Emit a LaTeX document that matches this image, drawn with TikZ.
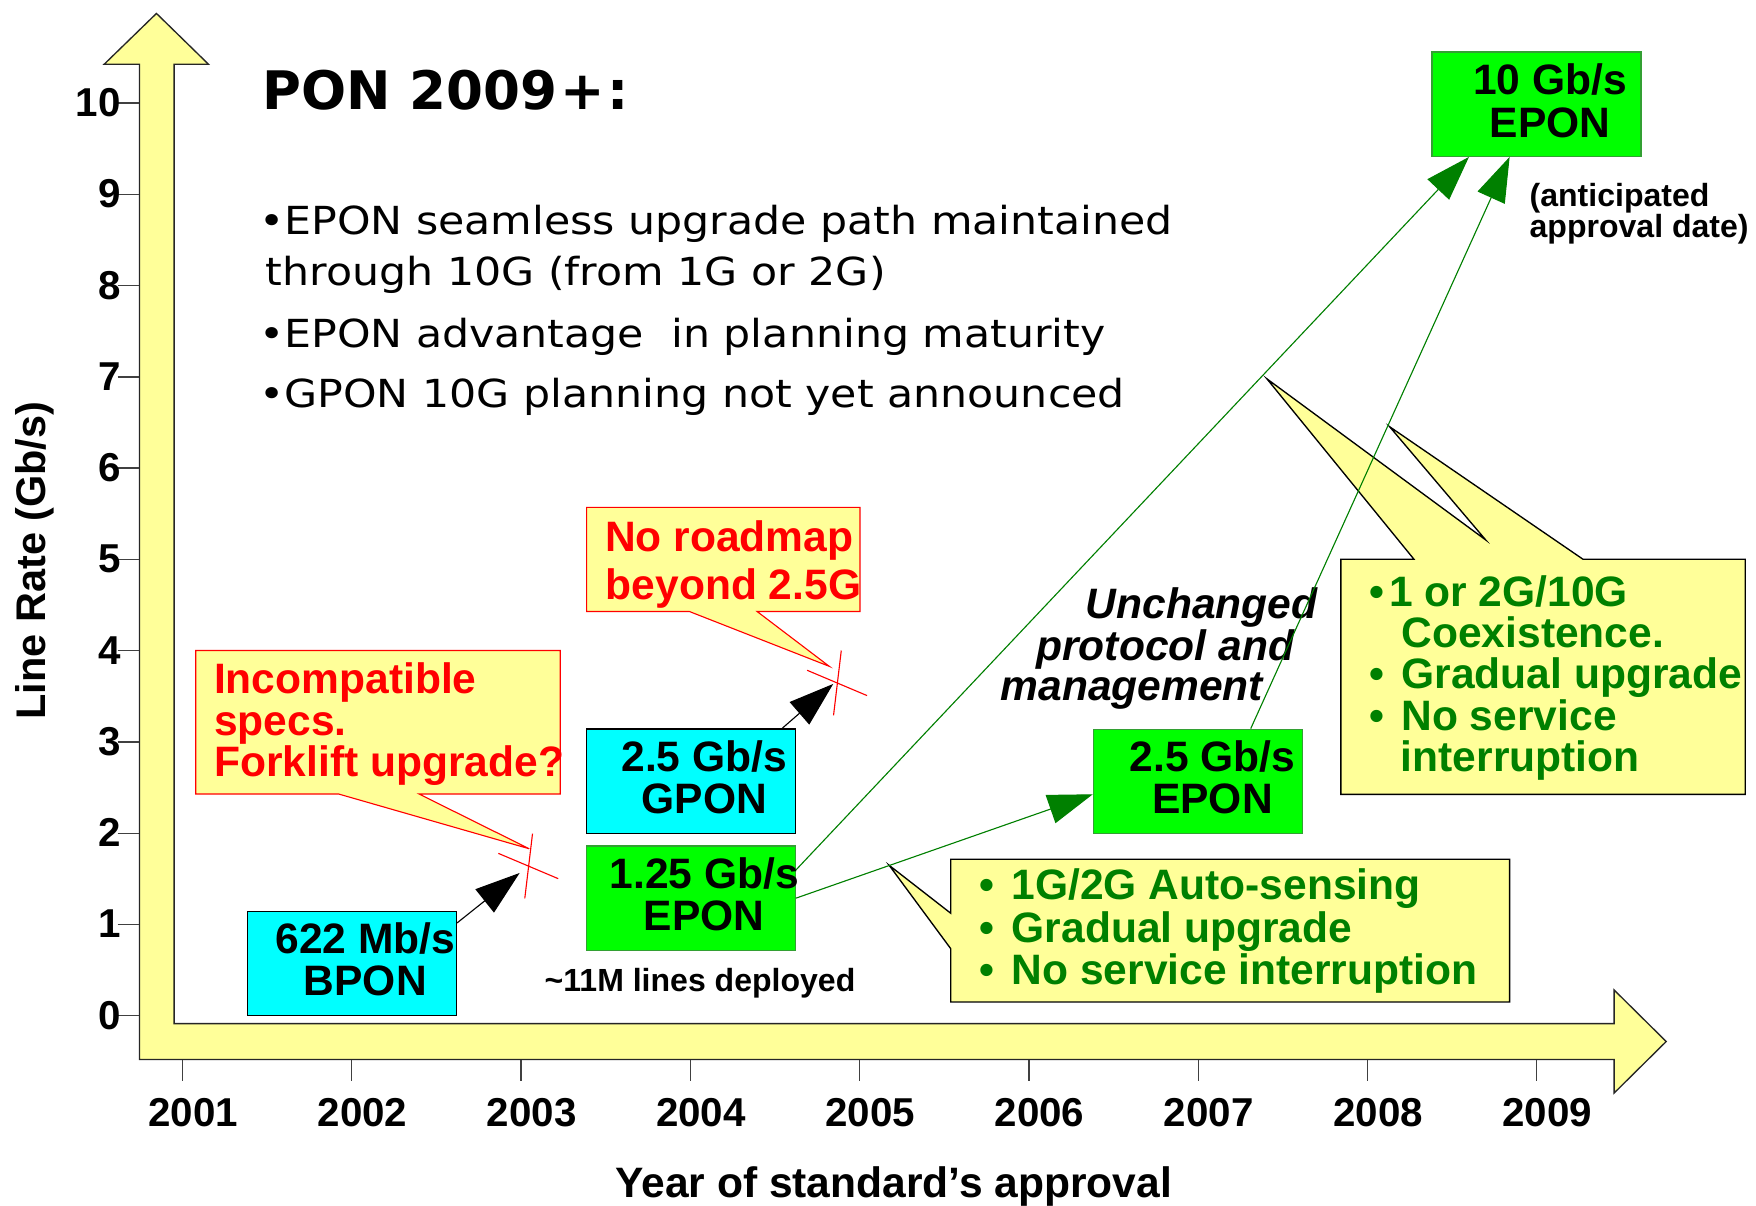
\documentclass[tikz,border=0pt]{standalone}
\usepackage{fontspec}
\setmainfont{Liberation Sans}
\newfontfamily\titlefont{DejaVu Sans}
\newfontfamily\bulletfont[FakeStretch=1.105]{DejaVu Sans}
\usetikzlibrary{arrows.meta,calc}
\definecolor{callfill}{HTML}{FFFF99}
\definecolor{ponblue}{HTML}{00FFFF}
\definecolor{pongreen}{HTML}{00FF00}
\definecolor{pongreenedge}{HTML}{33A033}
\definecolor{darkgreen}{HTML}{008000}
\definecolor{alertred}{HTML}{FF0000}

\begin{document}
\begin{tikzpicture}[x=0.5pt,y=-0.5pt,
  axisarrow/.style={fill=callfill,draw=black!85,line width=0.6pt,line join=miter},
  tickline/.style={draw=black!75,line width=0.6pt},
  ticklab/.style={font=\bfseries\fontsize{18}{18}\selectfont,inner sep=0pt},
  axistitle/.style={font=\bfseries\fontsize{19}{19}\selectfont,inner sep=0pt},
  ratebox/.style={rectangle,minimum width=93.3pt,minimum height=46.5pt,inner sep=0pt,line width=0.6pt},
  cyanbox/.style={ratebox,fill=ponblue,draw=black},
  greenbox/.style={ratebox,fill=pongreen,draw=pongreenedge},
  boxtext/.style={font=\bfseries\fontsize{19}{19}\selectfont,inner sep=0pt,anchor=base},
  redcall/.style={fill=callfill,draw=alertred,line width=0.5pt,line join=miter},
  darkcall/.style={fill=callfill,draw=black,line width=0.6pt,line join=miter},
  redtext/.style={font=\bfseries\fontsize{19}{19}\selectfont,text=alertred,inner sep=0pt,anchor=base west},
  greentext/.style={font=\bfseries\fontsize{19}{19}\selectfont,text=darkgreen,inner sep=0pt,anchor=base west},
  notetext/.style={font=\bfseries\fontsize{14.3}{14.3}\selectfont,inner sep=0pt,anchor=base west},
  slanttext/.style={font=\bfseries\itshape\fontsize{19}{19}\selectfont,inner sep=0pt,anchor=base west},
  bullettext/.style={font=\bulletfont\fontsize{17.25}{17.25}\selectfont,inner sep=0pt,anchor=base west},
  headline/.style={font=\titlefont\bfseries\fontsize{23.7}{23.7}\selectfont,inner sep=0pt,anchor=base west},
  upgrade/.style={draw=darkgreen,line width=0.5pt,-{Triangle[length=20pt,width=13.25pt]}},
  migrate/.style={draw=black,line width=0.5pt,-{Triangle[length=20pt,width=13.25pt]}},
  strike/.style={draw=alertred,line width=0.5pt},
]
\fill[white] (0,0) rectangle (1568,1076);
\useasboundingbox (0,0) rectangle (1568,1076);

% L-shaped axis arrow
\draw[axisarrow] (124.5,946) -- (124.5,57.4) -- (93,57.4) -- (139.7,12) -- (186.2,57.4)
  -- (155.5,57.4) -- (155.5,914) -- (1441.3,914) -- (1441.3,884) -- (1487.8,930)
  -- (1441.3,976) -- (1441.3,946) -- cycle;

% rate ticks
\foreach \v in {0,...,10} {
  \draw[tickline] (105,{907-81.5*\v}) -- (124.5,{907-81.5*\v});
  \node[ticklab,anchor=base east] (rate\v) at (108,{919-81.5*\v}) {\v};
}
% year ticks
\foreach \yr [count=\i from 0] in {2001,...,2009} {
  \draw[tickline] ({163+151.15*\i},946.3) -- ({163+151.15*\i},965.6);
  \node[ticklab,anchor=base] (year\yr) at ({172.5+151.15*\i},1005.7) {\yr};
}
\node[axistitle,anchor=base] (xtitle) at (798,1069) {Year of standard’s approval};
\node[axistitle,font=\bfseries\fontsize{18.5}{18.5}\selectfont,anchor=base,rotate=90] (ytitle) at (41,500.5) {Line Rate (Gb/s)};

% heading and bullet list
\node[headline] (head) at (234,98.2) {PON 2009\kern1.3pt+\kern1.3pt:};
\node[bullettext] (bul1) at (231,209.2) {•EPON seamless upgrade path maintained};
\node[bullettext] (bul1b) at (237,254.5) {through 10G (from 1G or 2G)};
\node[bullettext] (bul2) at (231,310.4) {•EPON advantage\ \ in planning maturity};
\node[bullettext] (bul3) at (231,363.5) {•GPON 10G planning not yet announced};

% callouts
\draw[redcall] (174.8,580.8) -- (500.3,580.8) -- (500.3,709) -- (374.2,709) -- (472.6,757.9)
  -- (302.4,709) -- (174.8,709) -- cycle;
\node[redtext] (fork1) at (190.8,619.4) {Incompatible};
\node[redtext] (fork2) at (190.8,656.4) {specs.};
\node[redtext] (fork3) at (190.8,693.4) {Forklift upgrade?};

\draw[redcall] (523.8,453) -- (767.9,453) -- (767.9,546) -- (676,546) -- (740.5,595)
  -- (615.5,546) -- (523.8,546) -- cycle;
\node[redtext] (road1) at (540,492.6) {No roadmap};
\node[redtext] (road2) at (540.5,535) {beyond 2.5G};

\draw[darkcall] (849,767.2) -- (1348,767.2) -- (1348,894.7) -- (849,894.7) -- (849,847.2)
  -- (794,772.7) -- (849,815.5) -- cycle;
\node[greentext] (auto1) at (874.6,803.6) {\makebox[14.2pt][l]{•}1G/2G Auto-sensing};
\node[greentext] (auto2) at (874.6,841.2) {\makebox[14.2pt][l]{•}Gradual upgrade};
\node[greentext] (auto3) at (874.6,878.9) {\makebox[14.2pt][l]{•}No service interruption};

\draw[darkcall] (1197.3,499.3) -- (1262.5,499.3) -- (1131.3,338.3) -- (1326.6,482.1)
  -- (1240.8,381) -- (1413.4,499.3) -- (1558.4,499.3) -- (1558.4,709.3)
  -- (1197.3,709.3) -- cycle;
\node[greentext] (coex1) at (1222.8,541.4) {\makebox[8.6pt][l]{•}1 or 2G/10G};
\node[greentext] (coex2) at (1251,578) {Coexistence.};
\node[greentext] (coex3) at (1222.8,614.9) {\makebox[14.1pt][l]{•}Gradual upgrade};
\node[greentext] (coex4) at (1222.8,652.2) {\makebox[14.1pt][l]{•}No service};
\node[greentext] (coex5) at (1250.5,688.8) {interruption};

% rate boxes
\node[cyanbox] (bpon) at (314.2,860.2) {};
\node[boxtext] (bponA) at ($(bpon.north)+(12,38.5)$) {622 Mb/s};
\node[boxtext] (bponB) at ($(bpon.north)+(12,76)$) {BPON};

\node[cyanbox] (gpon) at (616.8,697.5) {};
\node[boxtext] (gponA) at ($(gpon.north)+(12,38.5)$) {2.5 Gb/s};
\node[boxtext] (gponB) at ($(gpon.north)+(12,76)$) {GPON};

\node[greenbox] (epon1) at (616.8,802) {};
\node[boxtext] (epon1A) at ($(epon1.north)+(12,38.5)$) {1.25 Gb/s};
\node[boxtext] (epon1B) at ($(epon1.north)+(12,76)$) {EPON};

\node[greenbox] (epon2) at (1069.7,697.7) {};
\node[boxtext] (epon2A) at ($(epon2.north)+(13,38.5)$) {2.5 Gb/s};
\node[boxtext] (epon2B) at ($(epon2.north)+(13,76)$) {EPON};

\node[greenbox] (epon10) at (1372,93) {};
\node[boxtext] (epon10A) at ($(epon10.north)+(12,38.5)$) {10 Gb/s};
\node[boxtext] (epon10B) at ($(epon10.north)+(12,76.5)$) {EPON};

% notes
\node[notetext] (lines) at (486,885.4) {\textasciitilde11M lines deployed};
\node[notetext] (antic1) at (1365.5,184.5) {(anticipated};
\node[notetext] (antic2) at (1365.5,212.5) {approval date)};
\node[slanttext] (same1) at (969,552.6) {Unchanged};
\node[slanttext] (same2) at (925,590) {protocol and};
\node[slanttext] (same3) at (893,625.4) {management};

% dead ends
\coordinate (deadA) at (472,773.4);
\coordinate (deadB) at (747.7,609.9);
\foreach \c in {deadA,deadB} {
  \draw[strike] ($(\c)+(-27,-11.4)$) -- ($(\c)+(26.5,11.2)$);
  \draw[strike] ($(\c)+(3.5,-29)$) -- ($(\c)+(-3.4,28.8)$);
}
\coordinate (bponTip) at (464,779.5);
\coordinate (gponTip) at (744,610.7);
\draw[migrate] (bpon.21) -- (bponTip);
\draw[migrate] (gpon.30) -- (gponTip);

% EPON upgrade path
\draw[upgrade] (epon1.15) -- (epon10.218);
\draw[upgrade] (epon2.45) -- (epon10.243);
\draw[upgrade] (epon1.east) -- (epon2.187);
\end{tikzpicture}
\end{document}
